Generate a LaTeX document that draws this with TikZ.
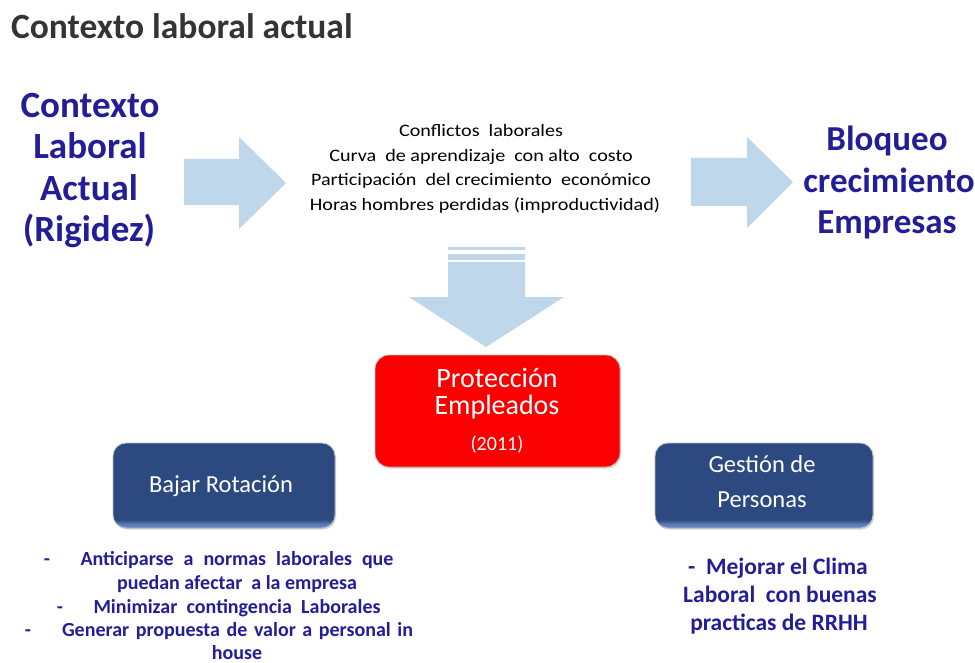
\documentclass[tikz,border=0pt]{standalone}
\usepackage{fontspec}
\setmainfont{Carlito}
\usetikzlibrary{shadows}
\definecolor{titlegray}{RGB}{52,52,52}
\definecolor{textblue}{RGB}{35,30,150}
\definecolor{arrowblue}{RGB}{190,215,234}
\definecolor{boxblue}{RGB}{44,74,128}
\definecolor{boxlight}{RGB}{95,130,190}
\definecolor{boxred}{RGB}{250,0,0}
\pgfdeclareverticalshading{blueboxshade}{100bp}{color(0bp)=(boxlight); color(25bp)=(boxlight); color(27bp)=(boxlight); color(30bp)=(boxblue); color(100bp)=(boxblue)}
\begin{document}
\begin{tikzpicture}[x=1pt, y=-1pt,
  every node/.style={inner sep=0pt, outer sep=0pt},
  titletxt/.style={text=titlegray, font=\fontsize{35.5}{41}\selectfont\bfseries, anchor=base west},
  bigtxt/.style={text=textblue, font=\fontsize{37}{41}\selectfont\bfseries, anchor=base},
  bigrtxt/.style={text=textblue, font=\fontsize{35}{41}\selectfont\bfseries, anchor=base},
  midtxt/.style={text=black, font=\fontsize{17.5}{24}\selectfont\addfontfeature{FakeStretch=1.15}, anchor=base},
  boxtxt/.style={text=white, font=\fontsize{28}{28}\selectfont, anchor=base},
  smallboxtxt/.style={text=white, font=\fontsize{20}{20}\selectfont, anchor=base},
  navtxt/.style={text=white, font=\fontsize{24.5}{24}\selectfont, anchor=base},
  notetxt/.style={text=textblue, font=\fontsize{20}{24}\selectfont\bfseries, anchor=base},
  note2txt/.style={text=textblue, font=\fontsize{23.5}{28}\selectfont\bfseries, anchor=base},
  blockarrow/.style={fill=arrowblue, draw=none},
  redbox/.style={rectangle, rounded corners=14pt, fill=boxred, draw=black!25, line width=0.8pt,
     drop shadow={shadow xshift=1pt, shadow yshift=-1.5pt, opacity=0.35}},
  bluebox/.style={rectangle, rounded corners=13pt, shading=blueboxshade, draw=black!25, line width=0.8pt,
     drop shadow={shadow xshift=1pt, shadow yshift=-1.5pt, opacity=0.35}}
]
\useasboundingbox (0,0) rectangle (975,663);
\fill[white] (0,0) rectangle (975,663);

% title
\node[titletxt] (title) at (11,39) {Contexto laboral actual};

% left big text
\node[bigtxt] (lt1) at (90,118) {Contexto};
\node[bigtxt] (lt2) at (90,159) {Laboral};
\node[bigtxt] (lt3) at (89,201) {Actual};
\node[bigtxt] (lt4) at (89,242) {(Rigidez)};

% right big text
\node[bigrtxt] (rt1) at (887,151) {Bloqueo};
\node[bigrtxt] (rt2) at (889,193) {crecimiento};
\node[bigrtxt] (rt3) at (887,234) {Empresas};

% central list
\node[midtxt] (c1) at (481,137) {Conflictos\ \ laborales};
\node[midtxt] (c2) at (481,161.5) {Curva\ \ de aprendizaje\ \ con\ alto\ \ costo};
\node[midtxt] (c3) at (481,186) {Participación\ \ del crecimiento\ \ económico};
\node[midtxt] (c4) at (485,210.5) {Horas hombres perdidas (improductividad)};

% block arrows
\fill[blockarrow] (184,159) -- (239,159) -- (239,137) -- (286,183) -- (239,229) -- (239,205) -- (184,205) -- cycle;
\fill[blockarrow] (691,158) -- (747,158) -- (747,137) -- (793,182) -- (747,228) -- (747,206) -- (691,206) -- cycle;
\fill[blockarrow] (448,247) rectangle (525,250);
\fill[blockarrow] (448,254) rectangle (525,260);
\fill[blockarrow] (448,262) -- (525,262) -- (525,297) -- (564,297) -- (486,347) -- (409,297) -- (448,297) -- cycle;

% boxes
\node[redbox, minimum width=245pt, minimum height=112pt] (prot) at (497.5,411) {};
\node[bluebox, minimum width=222pt, minimum height=85pt] (bajar) at (224,485.5) {};
\node[bluebox, minimum width=218pt, minimum height=85pt] (gest) at (764,485.5) {};

\node[boxtxt] (p1) at (497,387) {Protección};
\node[boxtxt] (p2) at (497,414) {Empleados};
\node[smallboxtxt] (p3) at (497,450) {(2011)};

\node[navtxt] (b1) at (221,492) {Bajar Rotación};
\node[navtxt] (g1) at (762,472) {Gestión de};
\node[navtxt] (g2) at (762,507) {Personas};

% bottom-left notes
\node[notetxt] (d1) at (47,565) {-};
\node[notetxt] (n1) at (237,565) {\makebox[313pt][s]{Anticiparse a normas laborales que}};
\node[notetxt] (n2) at (237,589) {puedan afectar\ \ a la empresa};
\node[notetxt] (d3) at (60,613) {-};
\node[notetxt] (n3) at (237,613) {\makebox[287pt][s]{Minimizar contingencia Laborales}};
\node[notetxt] (d4) at (28,636) {-};
\node[notetxt] (n4) at (237.5,636) {\makebox[351pt][s]{Generar propuesta de valor a personal in}};
\node[notetxt] (n5) at (237,659) {house};

% bottom-right notes
\node[note2txt] (m1) at (778,574) {-\ \ Mejorar el Clima};
\node[note2txt] (m2) at (780,602) {Laboral\ \ con buenas};
\node[note2txt] (m3) at (779,630) {practicas de RRHH};
\end{tikzpicture}
\end{document}
